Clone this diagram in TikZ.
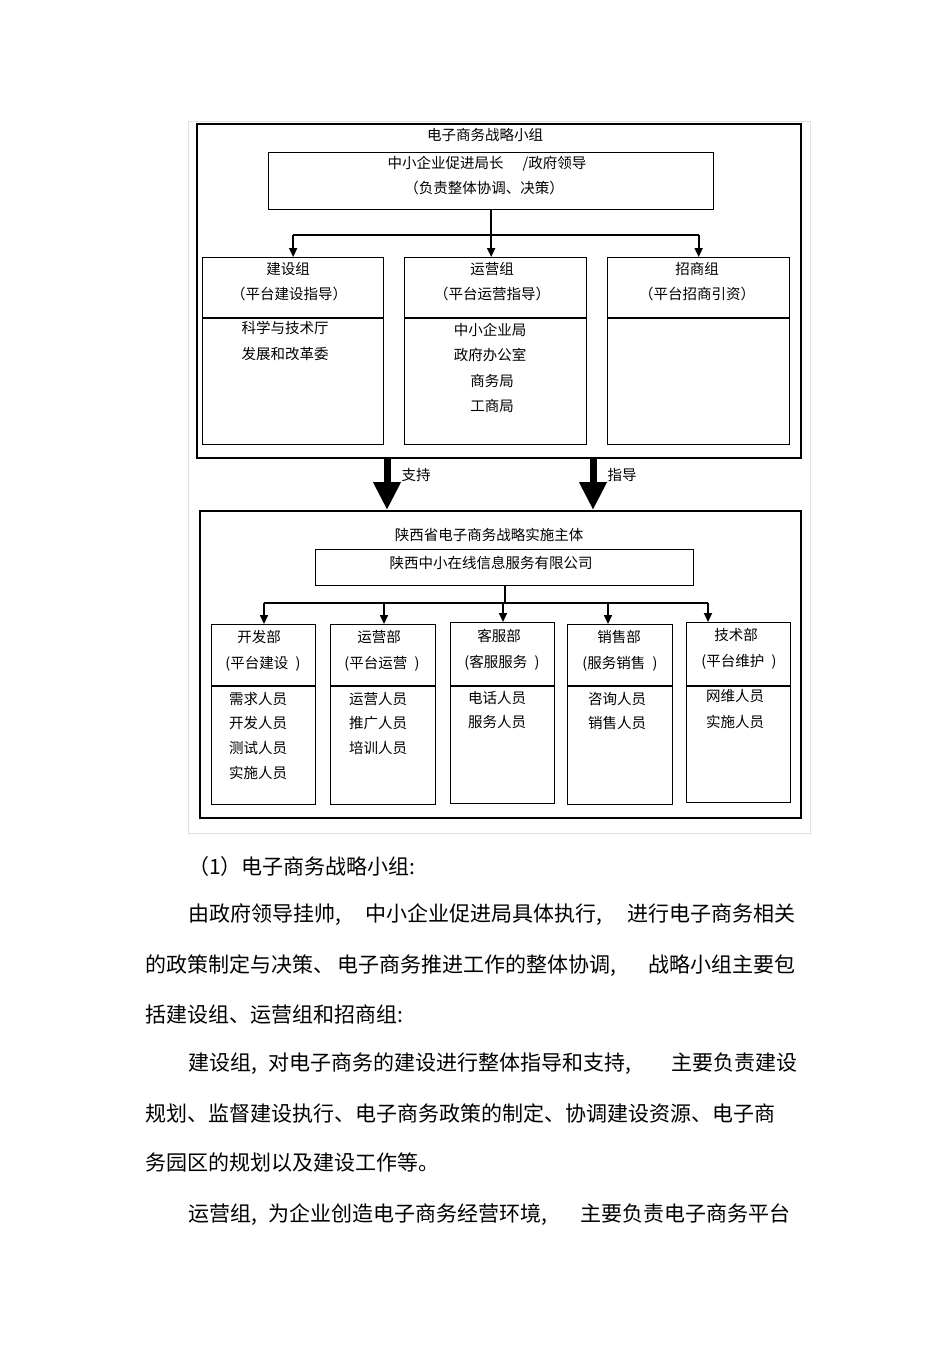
\documentclass[tikz,border=0pt]{standalone}
\usepackage{fontspec}
\setmainfont{Noto Sans CJK SC}
\usetikzlibrary{arrows.meta}
\begin{document}
\begin{tikzpicture}[x=1pt,y=-1pt,
  box/.style={draw, line width=1.3pt, inner sep=0pt, anchor=north west},
  lbl/.style={font=\fontsize{14.5}{16}\selectfont, inner sep=0pt, anchor=center},
  body/.style={font=\fontsize{21}{24}\selectfont, inner sep=0pt, anchor=west},
  conn/.style={line width=1.8pt},
  tipd/.style={-{Triangle[length=9pt,width=8pt]}},
  bigarrow/.style={line width=7pt, -{Triangle[length=28pt,width=26pt]}},
  divider/.style={line width=1.3pt}
]
\useasboundingbox (0,0) rectangle (950,1345);
\fill[white] (0,0) rectangle (950,1345);
% faint frame
\draw[black!12, line width=0.8pt] (188,121) rectangle (810,833);

% ---------- top group ----------
\node[box, line width=2.2pt, minimum width=604pt, minimum height=334pt] (top) at (196,123) {};
\node[lbl] (ttitle) at (485,135) {电子商务战略小组};
\node[box, minimum width=445pt, minimum height=57pt] (lead) at (268,152) {};
\node[lbl] (lead1) at (487,164) {中小企业促进局长\hspace{1.3em}/政府领导};
\node[lbl] (lead2) at (484,188) {（负责整体协调、决策）};

\node[box, minimum width=181pt, minimum height=187pt] (g1) at (202,257) {};
\node[box, minimum width=182pt, minimum height=187pt] (g2) at (404,257) {};
\node[box, minimum width=182pt, minimum height=187pt] (g3) at (607,257) {};
\coordinate (dv) at (0,318);
\foreach \g in {g1,g2,g3}{\draw[divider] (\g.west |- dv) -- (\g.east |- dv);}

\node[lbl] (g1t) at (288,269) {建设组};
\node[lbl] (g1s) at (289,294) {（平台建设指导）};
\node[lbl] (g1a) at (285,328) {科学与技术厅};
\node[lbl] (g1b) at (285,354) {发展和改革委};

\node[lbl] (g2t) at (492,269) {运营组};
\node[lbl] (g2s) at (492,294) {（平台运营指导）};
\node[lbl] (g2a) at (490,330) {中小企业局};
\node[lbl] (g2b) at (490,355) {政府办公室};
\node[lbl] (g2c) at (492,381) {商务局};
\node[lbl] (g2d) at (492,406) {工商局};

\node[lbl] (g3t) at (697,269) {招商组};
\node[lbl] (g3s) at (697,294) {（平台招商引资）};

\coordinate (hb) at (0,235);
\draw[conn] (lead.south) -- (lead.south |- hb);
\draw[conn] (g1.north |- hb) -- (g3.north |- hb);
\draw[conn, tipd] (g1.north |- hb) -- (g1.north);
\draw[conn, tipd] (lead.south |- hb) -- (lead.south |- g2.north);
\draw[conn, tipd] (g3.north |- hb) -- (g3.north);

% ---------- big arrows ----------
\coordinate (ba1) at (387,0);
\coordinate (ba2) at (593,0);
\node[box, line width=1.8pt, minimum width=601pt, minimum height=307pt] (bot) at (199,510) {};
\draw[bigarrow] (ba1 |- top.south) -- (ba1 |- bot.north);
\draw[bigarrow] (ba2 |- top.south) -- (ba2 |- bot.north);
\node[lbl] (sup) at (416,475) {支持};
\node[lbl] (gui) at (622,475) {指导};

% ---------- bottom group ----------
\node[lbl] (btitle) at (489,535) {陕西省电子商务战略实施主体};
\node[box, minimum width=378pt, minimum height=36pt] (comp) at (315,549) {};
\node[lbl] (compt) at (491,563) {陕西中小在线信息服务有限公司};

\node[box, minimum width=104pt, minimum height=180pt] (d1) at (211,624) {};
\node[box, minimum width=105pt, minimum height=180pt] (d2) at (330,624) {};
\node[box, minimum width=104pt, minimum height=181pt] (d3) at (450,622) {};
\node[box, minimum width=105pt, minimum height=180pt] (d4) at (567,624) {};
\node[box, minimum width=104pt, minimum height=180pt] (d5) at (686,622) {};
\coordinate (dd) at (0,686);
\foreach \d in {d1,d2,d3,d4,d5}{\draw[divider] (\d.west |- dd) -- (\d.east |- dd);}

\coordinate (hc) at (0,603);
\coordinate (a1) at (264,603);
\coordinate (a2) at (384,603);
\coordinate (a3) at (503,603);
\coordinate (a4) at (608,603);
\coordinate (a5) at (708,603);
\draw[conn] (comp.south) -- (comp.south |- hc);
\draw[conn] (a1) -- (a5);
\draw[conn, tipd] (a1) -- (a1 |- d1.north);
\draw[conn, tipd] (a2) -- (a2 |- d2.north);
\draw[conn, tipd] (a3) -- (a3 |- d3.north);
\draw[conn, tipd] (a4) -- (a4 |- d4.north);
\draw[conn, tipd] (a5) -- (a5 |- d5.north);

\node[lbl] (d1t) at (259,637) {开发部};
\node[lbl] (d1s) at (263,664) {(平台建设\hspace{0.5em})};
\node[lbl] (d1a) at (258,699) {需求人员};
\node[lbl] (d1b) at (258,723) {开发人员};
\node[lbl] (d1c) at (258,748) {测试人员};
\node[lbl] (d1d) at (258,773) {实施人员};

\node[lbl] (d2t) at (379,637) {运营部};
\node[lbl] (d2s) at (382,664) {(平台运营\hspace{0.5em})};
\node[lbl] (d2a) at (378,699) {运营人员};
\node[lbl] (d2b) at (378,723) {推广人员};
\node[lbl] (d2c) at (378,748) {培训人员};

\node[lbl] (d3t) at (499,636) {客服部};
\node[lbl] (d3s) at (502,663) {(客服服务\hspace{0.5em})};
\node[lbl] (d3a) at (497,698) {电话人员};
\node[lbl] (d3b) at (497,722) {服务人员};

\node[lbl] (d4t) at (619,637) {销售部};
\node[lbl] (d4s) at (620,664) {(服务销售\hspace{0.5em})};
\node[lbl] (d4a) at (617,699) {咨询人员};
\node[lbl] (d4b) at (617,723) {销售人员};

\node[lbl] (d5t) at (736,635) {技术部};
\node[lbl] (d5s) at (739,662) {(平台维护\hspace{0.5em})};
\node[lbl] (d5a) at (735,696) {网维人员};
\node[lbl] (d5b) at (735,722) {实施人员};

% ---------- body text ----------
\node[body] (p1) at (188,867) {（1）电子商务战略小组:};
\node[body] (p2) at (188,915) {\makebox[607pt][s]{由政府领导挂帅,\hspace{0pt plus 1fil}中小企业促进局具体执行,\hspace{0pt plus 1fil}进行电子商务相关}};
\node[body] (p3) at (145,966) {\makebox[650pt][s]{的政策制定与决策、\hspace{3pt}电子商务推进工作的整体协调,\hspace{0pt plus 1fil}战略小组主要包}};
\node[body] (p4) at (145,1015) {括建设组、运营组和招商组:};
\node[body] (p5) at (188,1064) {\makebox[609pt][s]{建设组,\hspace{11pt}对电子商务的建设进行整体指导和支持,\hspace{0pt plus 1fil}主要负责建设}};
\node[body] (p6) at (145,1113) {规划、监督建设执行、电子商务政策的制定、协调建设资源、电子商};
\node[body] (p7) at (145,1163) {务园区的规划以及建设工作等。};
\node[body] (p8) at (188,1215) {\makebox[602pt][s]{运营组,\hspace{11pt}为企业创造电子商务经营环境,\hspace{0pt plus 1fil}主要负责电子商务平台}};
\end{tikzpicture}
\end{document}
